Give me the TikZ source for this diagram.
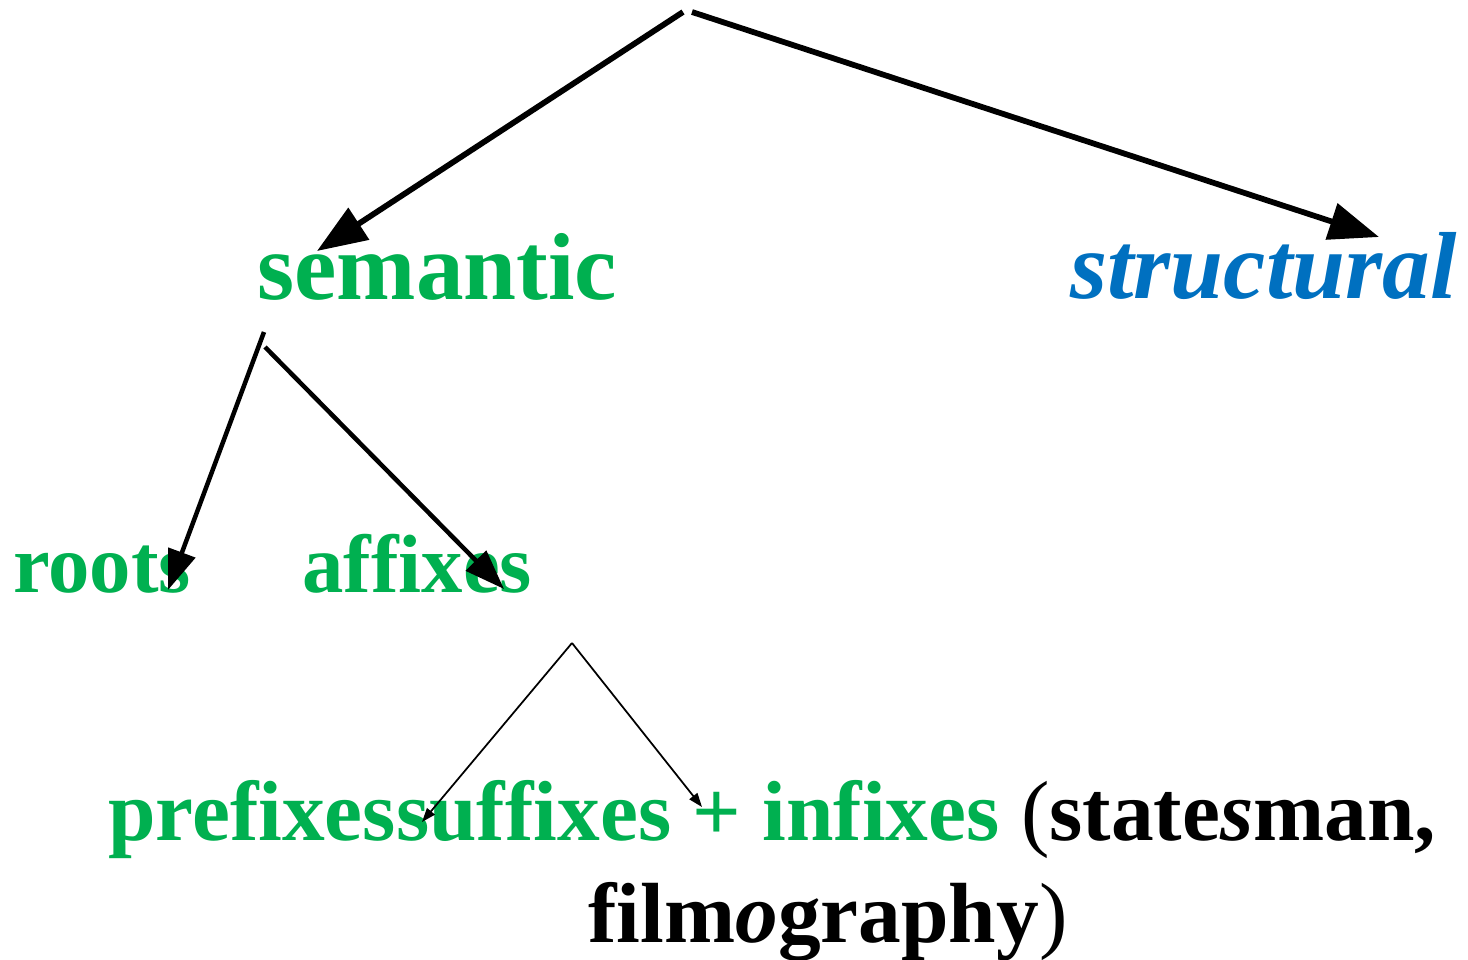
\documentclass[tikz,border=0pt]{standalone}
\usepackage{fontspec}
\setmainfont{Liberation Serif}
\usetikzlibrary{arrows.meta}
\definecolor{leafgreen}{HTML}{00B050}
\definecolor{structblue}{HTML}{0070C0}
\begin{document}
\begin{tikzpicture}[x=0.02cm,y=-0.02cm,
    word/.style={inner sep=0pt,anchor=base west,font=\fontsize{47.1}{54}\selectfont\bfseries},
    bigword/.style={word,font=\fontsize{54.2}{62}\selectfont\bfseries},
    lineword/.style={word,font=\fontsize{48.6}{56}\selectfont\bfseries},
    thickarr/.style={line width=0.115cm,-{Triangle[length=1cm,width=0.74cm]}},
    midarr/.style={line width=0.09cm,-{Triangle[length=0.8cm,width=0.56cm]}},
    thinarr/.style={line width=0.035cm,-{Triangle[length=0.28cm,width=0.2cm]}}]
  \useasboundingbox (0,0) rectangle (1468,960);
  % words
  \node[bigword,text=leafgreen] (semantic) at (257,299) {semantic};
  \node[bigword,text=structblue] (structural) at (1070,298) {\itshape structural};
  \node[word,text=leafgreen] (roots) at (13,592) {roots};
  \node[word,text=leafgreen] (affixes) at (302,592) {affixes};
  \node[lineword] (kinds) at (108,840) {\textcolor{leafgreen}{prefixessuffixes + infixes} {\mdseries (}state\textit{s}man,};
  \node[lineword] (example) at (588,942) {film\textit{o}graphy{\mdseries )}};
  % branch points and tips
  \coordinate (topL) at (683,12);
  \coordinate (topR) at (692,12);
  \coordinate (semL) at (264,332);
  \coordinate (semR) at (265,347);
  \coordinate (affTop) at (572,643);
  \coordinate (semTip) at (317,251);
  \coordinate (strTip) at (1379,237);
  \coordinate (rootTip) at (168,590);
  \coordinate (affTip) at (504,589);
  \coordinate (preTip) at (422,822);
  \coordinate (sufTip) at (702,807);
  % arrows
  \draw[thickarr] (topL) -- (semTip);
  \draw[thickarr] (topR) -- (strTip);
  \draw[midarr] (semL) -- (rootTip);
  \draw[midarr] (semR) -- (affTip);
  \draw[thinarr] (affTop) -- (preTip);
  \draw[thinarr] (affTop) -- (sufTip);
\end{tikzpicture}
\end{document}
